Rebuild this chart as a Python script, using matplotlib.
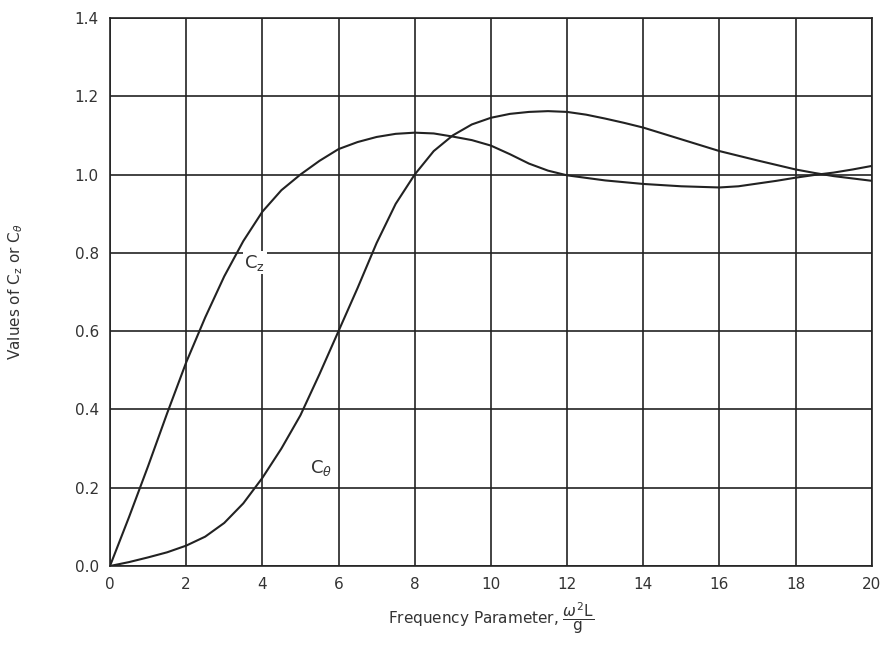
import matplotlib
matplotlib.use("Agg")
import matplotlib.pyplot as plt

# values
freq_z = [0, 0.5, 1, 1.5, 2, 2.5, 3, 3.5, 4, 4.5, 5, 5.5, 6, 6.5, 7, 7.5, 8, 8.5, 9, 9.5,
          10, 10.5, 11, 11.5, 12, 13, 14, 15, 16, 16.5, 17, 17.5, 18, 18.5, 19, 19.5, 20]
c_z = [0.0, 0.125, 0.255, 0.39, 0.52, 0.635, 0.74, 0.83, 0.905, 0.96, 1.0, 1.035, 1.065, 1.083, 1.096, 1.104,
       1.107, 1.105, 1.097, 1.088, 1.074, 1.052, 1.028, 1.01, 0.998, 0.985, 0.976, 0.97, 0.967, 0.97,
       0.977, 0.984, 0.992, 0.999, 1.005, 1.013, 1.022]

freq_t = [0, 0.5, 1, 1.5, 2, 2.5, 3, 3.5, 4, 4.5, 5, 5.5, 6, 6.5, 7, 7.5, 8, 8.5, 9, 9.5,
          10, 10.5, 11, 11.5, 12, 12.5, 13, 13.5, 14, 14.5, 15, 15.5, 16, 17, 18, 18.5, 19, 19.5, 20]
c_theta = [0.0, 0.01, 0.022, 0.035, 0.052, 0.075, 0.11, 0.16, 0.225, 0.3, 0.385, 0.49, 0.6, 0.71, 0.825,
           0.925, 1.0, 1.06, 1.1, 1.128, 1.145, 1.155, 1.16, 1.162, 1.16, 1.153, 1.143, 1.132, 1.12,
           1.105, 1.09, 1.075, 1.06, 1.036, 1.013, 1.004, 0.996, 0.99, 0.984]

x_ticks = [0, 2, 4, 6, 8, 10, 12, 14, 16, 18, 20]
y_ticks = [0.0, 0.2, 0.4, 0.6, 0.8, 1.0, 1.2, 1.4]

fig = plt.figure(figsize=(8.92, 6.63), dpi=100)
ax = fig.add_axes([0.1233, 0.1463, 0.854, 0.8266])

ax.plot(freq_z, c_z, color='#222222', lw=1.5, zorder=3)
ax.plot(freq_t, c_theta, color='#222222', lw=1.5, zorder=3)

ax.set_xlim(0, 20)
ax.set_ylim(0, 1.4)
ax.set_xticks(x_ticks)
ax.set_xticklabels([str(t) for t in x_ticks])
ax.set_yticks(y_ticks)
ax.set_yticklabels(['%.1f' % t for t in y_ticks])
ax.tick_params(length=0, labelsize=11, colors='#333333', pad=8)
ax.grid(True, color='#222222', lw=1.2)
for s in ax.spines.values():
    s.set_color('#222222')
    s.set_linewidth(1.2)

ax.text(3.8, 0.775, r'C$_{\mathrm{z}}$', fontsize=13, color='#333333', ha='center', va='center',
        bbox=dict(facecolor='white', edgecolor='none', pad=1), zorder=4)
ax.text(5.55, 0.25, r'C$_{\theta}$', fontsize=13, color='#333333', ha='center', va='center',
        bbox=dict(facecolor='white', edgecolor='none', pad=1), zorder=4)

ax.set_xlabel(r'Frequency Parameter, $\dfrac{\omega^2\mathrm{L}}{\mathrm{g}}$', fontsize=11,
              color='#333333', labelpad=6)
ax.set_ylabel(r'Values of C$_{\mathrm{z}}$ or C$_{\theta}$', fontsize=11, color='#333333', labelpad=36)

fig.savefig('out.png', dpi=100)
